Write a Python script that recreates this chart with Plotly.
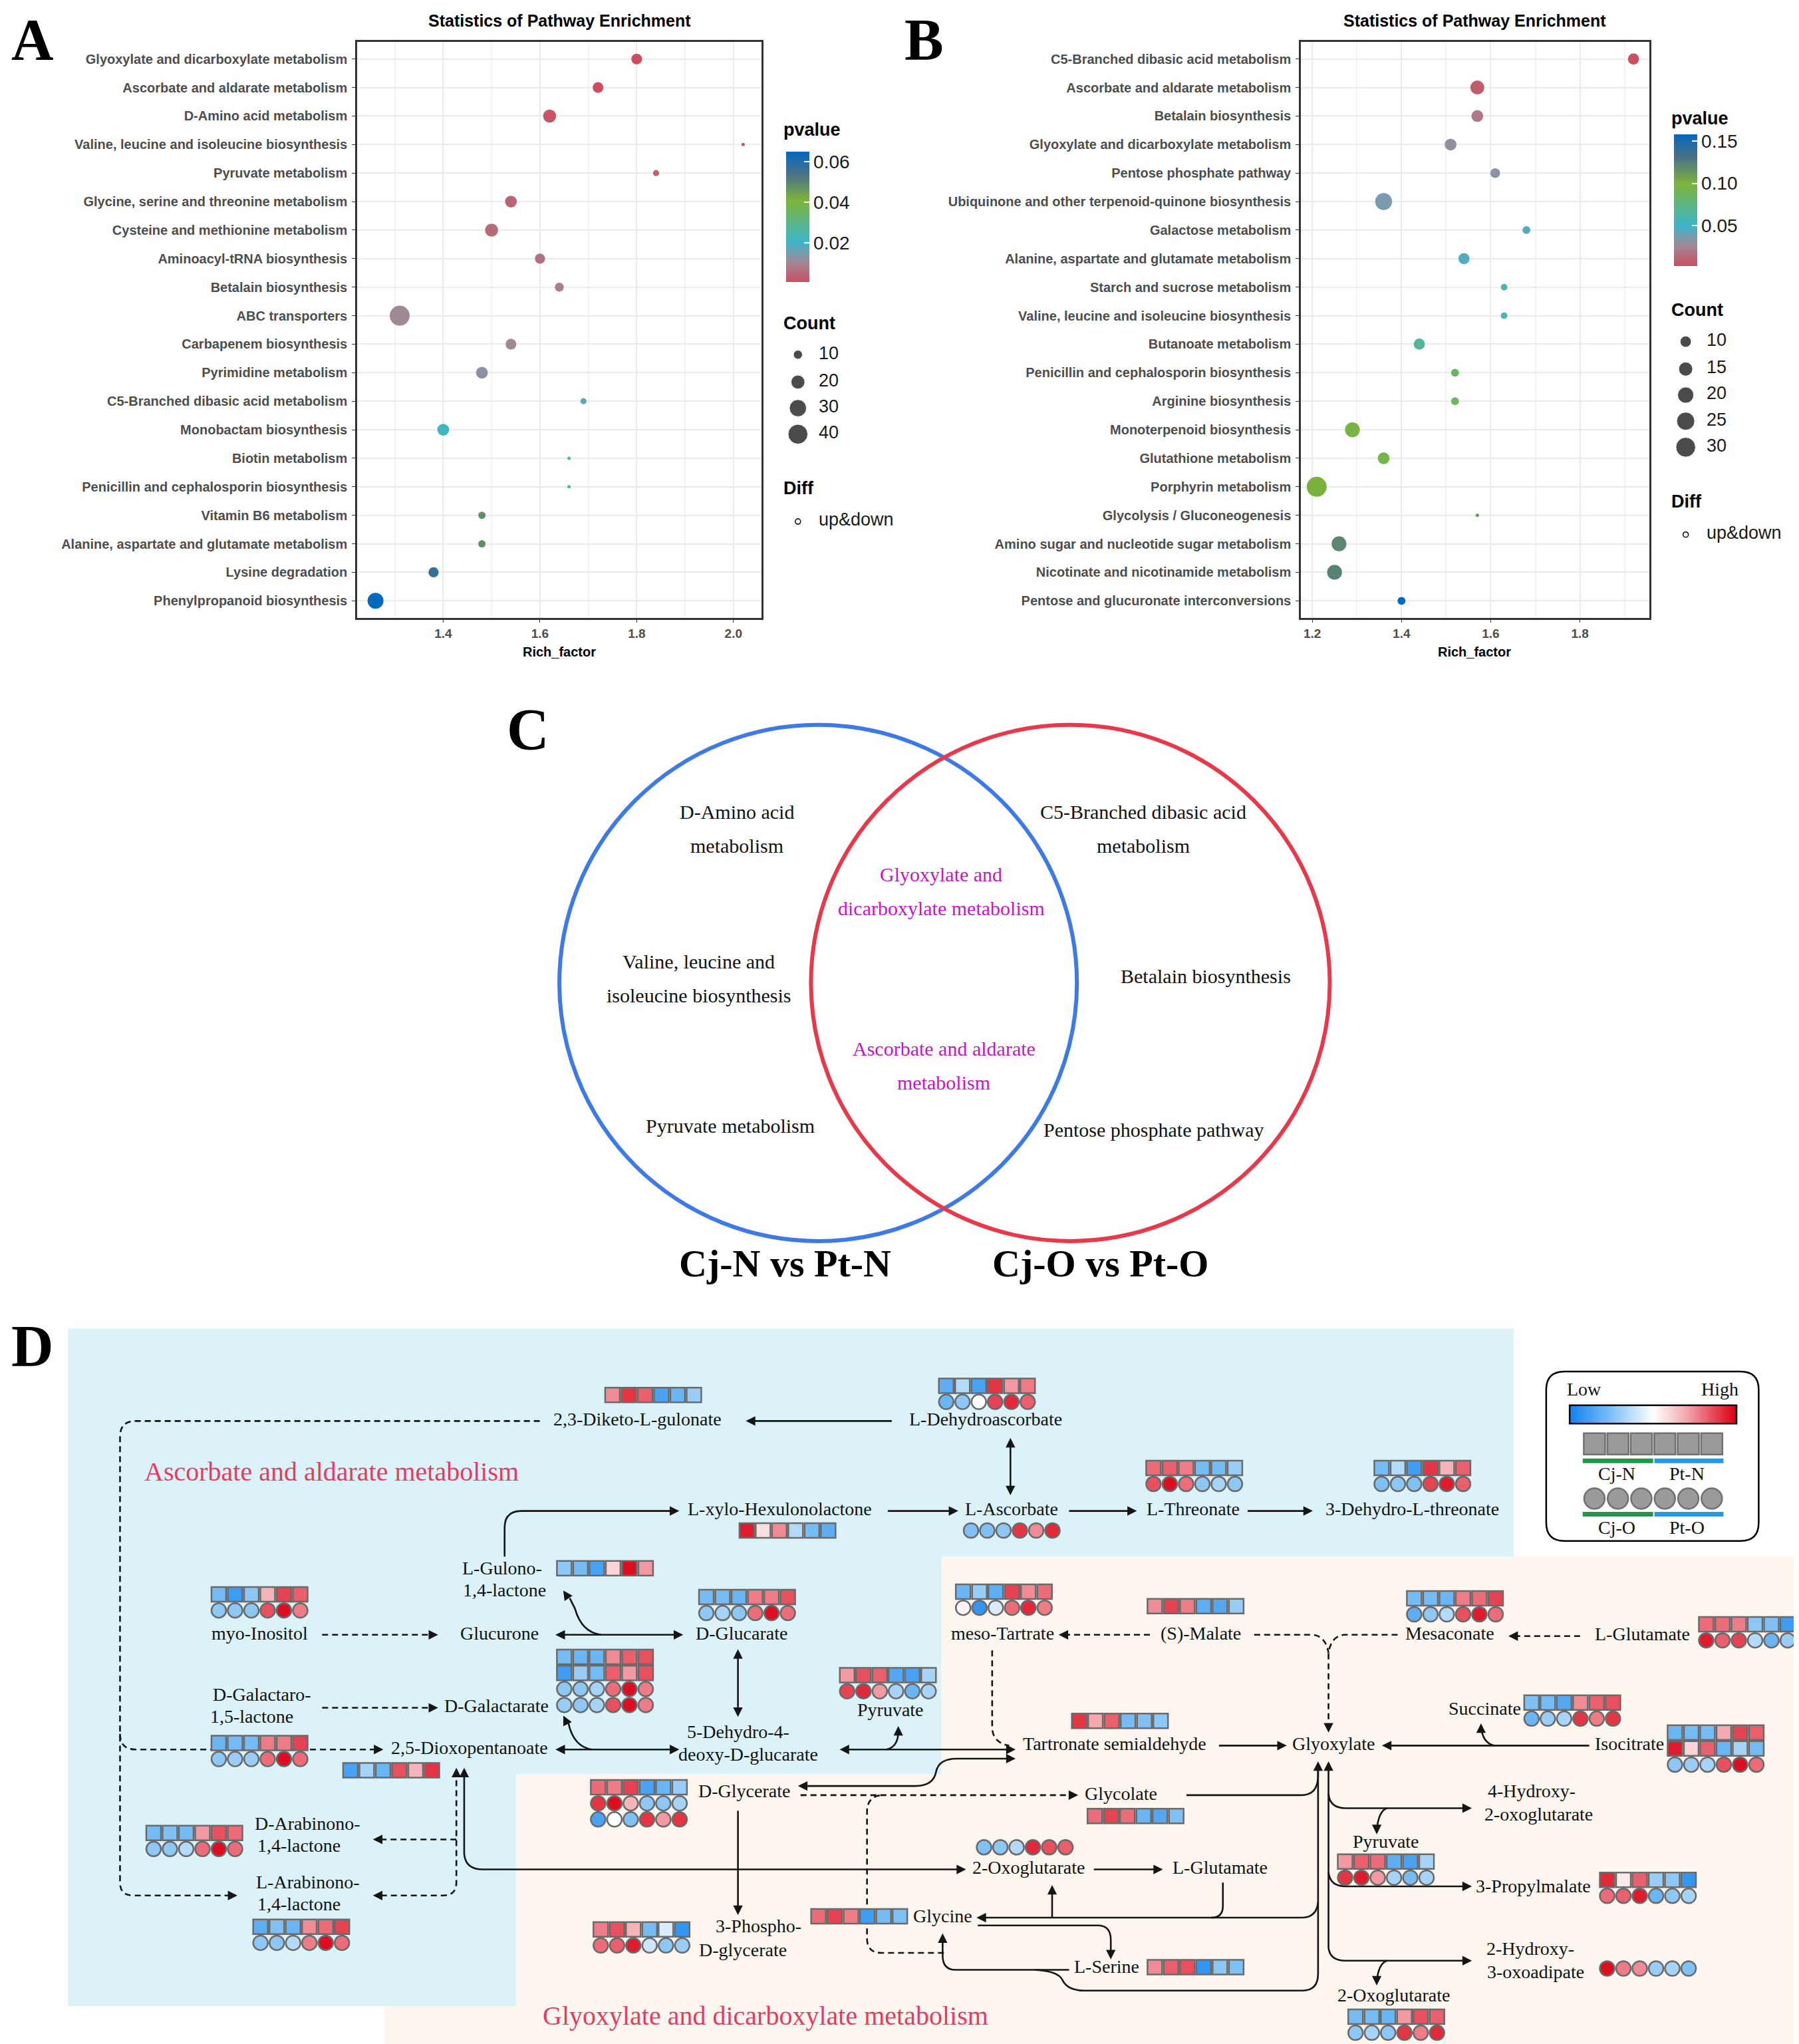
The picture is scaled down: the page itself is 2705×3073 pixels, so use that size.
import numpy as np
import plotly.graph_objects as go

W, H = 2705, 3073
SANS = "Liberation Sans, Arial, sans-serif"
SERIF = "Liberation Serif, Times New Roman, serif"

# ---------------- A: pathway enrichment, Cj-N vs Pt-N
a_pathway = ["Glyoxylate and dicarboxylate metabolism", "Ascorbate and aldarate metabolism",
             "D-Amino acid metabolism", "Valine, leucine and isoleucine biosynthesis",
             "Pyruvate metabolism", "Glycine, serine and threonine metabolism",
             "Cysteine and methionine metabolism", "Aminoacyl-tRNA biosynthesis",
             "Betalain biosynthesis", "ABC transporters", "Carbapenem biosynthesis",
             "Pyrimidine metabolism", "C5-Branched dibasic acid metabolism",
             "Monobactam biosynthesis", "Biotin metabolism",
             "Penicillin and cephalosporin biosynthesis", "Vitamin B6 metabolism",
             "Alanine, aspartate and glutamate metabolism", "Lysine degradation",
             "Phenylpropanoid biosynthesis"]
a_rich = [1.80, 1.72, 1.62, 2.02, 1.84, 1.54, 1.50, 1.60, 1.64, 1.31,
          1.54, 1.48, 1.69, 1.40, 1.66, 1.66, 1.48, 1.48, 1.38, 1.26]
a_pvalue = [0.001, 0.001, 0.002, 0.002, 0.004, 0.005, 0.006, 0.007, 0.009, 0.011,
            0.011, 0.013, 0.018, 0.022, 0.027, 0.027, 0.048, 0.048, 0.057, 0.065]
a_count = [13, 13, 18, 6, 7, 15, 18, 12, 10, 41, 13, 15, 7, 15, 6, 6, 8, 8, 12, 26]
a_count_breaks = [10, 20, 30, 40]
a_p_ticks = [0.02, 0.04, 0.06]

# ---------------- B: pathway enrichment, Cj-O vs Pt-O
b_pathway = ["C5-Branched dibasic acid metabolism", "Ascorbate and aldarate metabolism",
             "Betalain biosynthesis", "Glyoxylate and dicarboxylate metabolism",
             "Pentose phosphate pathway", "Ubiquinone and other terpenoid-quinone biosynthesis",
             "Galactose metabolism", "Alanine, aspartate and glutamate metabolism",
             "Starch and sucrose metabolism", "Valine, leucine and isoleucine biosynthesis",
             "Butanoate metabolism", "Penicillin and cephalosporin biosynthesis",
             "Arginine biosynthesis", "Monoterpenoid biosynthesis", "Glutathione metabolism",
             "Porphyrin metabolism", "Glycolysis / Gluconeogenesis",
             "Amino sugar and nucleotide sugar metabolism",
             "Nicotinate and nicotinamide metabolism", "Pentose and glucuronate interconversions"]
b_rich = [1.92, 1.57, 1.57, 1.51, 1.61, 1.36, 1.68, 1.54, 1.63, 1.63,
          1.44, 1.52, 1.52, 1.29, 1.36, 1.21, 1.57, 1.26, 1.25, 1.40]
b_pvalue = [0.002, 0.008, 0.020, 0.030, 0.032, 0.036, 0.044, 0.045, 0.060, 0.060,
            0.068, 0.085, 0.085, 0.095, 0.093, 0.100, 0.113, 0.120, 0.123, 0.158]
b_count = [10, 15, 11, 11, 8, 22, 6, 10, 5, 5, 10, 6, 6, 17, 11, 31, 4, 17, 17, 6]
b_count_breaks = [10, 15, 20, 25, 30]
b_p_ticks = [0.05, 0.10, 0.15]

# ---------------- C: Venn of the top pathways
venn_sets = ["Cj-N vs Pt-N", "Cj-O vs Pt-O"]
venn_only_n = [["D-Amino acid", "metabolism"], ["Valine, leucine and", "isoleucine biosynthesis"],
               ["Pyruvate metabolism"]]
venn_shared = [["Glyoxylate and", "dicarboxylate metabolism"], ["Ascorbate and aldarate", "metabolism"]]
venn_only_o = [["C5-Branched dibasic acid", "metabolism"], ["Betalain biosynthesis"],
               ["Pentose phosphate pathway"]]

# ---------------- D: relative metabolite levels (-1 low .. 1 high), Cj x3 then Pt x3
h_diketo = [[0.5, 0.8, 0.65, -0.75, -0.6, -0.4]]
h_dehydroasc = [[-0.65, -0.3, -0.75, 0.8, 0.45, 0.55], [-0.6, -0.45, 0.0, 0.75, 0.85, 0.65]]
h_xylo = [[0.9, 0.15, 0.5, -0.3, -0.55, -0.65]]
h_ascorbate = [[-0.5, -0.5, -0.45, 0.8, 0.5, 0.85]]
h_threonate = [[0.6, 0.65, 0.55, -0.55, -0.55, -0.4], [0.7, 0.95, 0.6, -0.45, -0.35, -0.45]]
h_dehydrothr = [[-0.55, -0.3, -0.8, 0.8, 0.35, 0.65], [-0.5, -0.45, -0.5, 0.75, 0.9, 0.65]]
h_gulono = [[-0.45, -0.55, -0.75, 0.2, 0.95, 0.45]]
h_inositol = [[-0.55, -0.8, -0.45, 0.35, 0.75, 0.65], [-0.45, -0.45, -0.45, 0.7, 0.95, 0.55]]
h_glucarate = [[-0.55, -0.55, -0.6, 0.55, 0.55, 0.7], [-0.45, -0.35, -0.45, 0.6, 0.95, 0.6]]
h_galactarolac = [[-0.6, -0.55, -0.55, 0.55, 0.55, 0.75], [-0.45, -0.4, -0.4, 0.6, 0.95, 0.6]]
h_galactarate = [[-0.55, -0.6, -0.6, 0.5, 0.65, 0.7], [-0.8, -0.4, -0.55, 0.65, 0.45, 0.7],
                 [-0.45, -0.45, -0.35, 0.6, 0.95, 0.55], [-0.4, -0.45, -0.35, 0.7, 0.95, 0.55]]
h_dioxopent = [[-0.75, -0.35, -0.6, 0.7, 0.35, 0.8]]
h_pyruvate1 = [[0.45, 0.7, 0.65, -0.7, -0.75, -0.35], [0.75, 0.85, 0.45, -0.35, -0.6, -0.35]]
h_darabinono = [[-0.55, -0.5, -0.55, 0.45, 0.7, 0.6], [-0.45, -0.45, -0.3, 0.6, 0.95, 0.6]]
h_larabinono = [[-0.65, -0.5, -0.6, 0.5, 0.6, 0.75], [-0.45, -0.45, -0.3, 0.55, 0.95, 0.6]]
h_mesotart = [[-0.6, -0.4, -0.65, 0.75, 0.5, 0.6], [0.05, -0.85, -0.15, 0.6, 0.85, 0.55]]
h_malate = [[0.5, 0.75, 0.55, -0.65, -0.7, -0.4]]
h_mesaconate = [[-0.55, -0.55, -0.6, 0.55, 0.6, 0.75], [-0.65, -0.45, -0.3, 0.7, 0.9, 0.6]]
h_glutamate = [[0.6, 0.6, 0.55, -0.45, -0.5, -0.8], [0.9, 0.65, 0.75, -0.3, -0.6, -0.4]]
h_succinate = [[-0.5, -0.55, -0.7, 0.5, 0.65, 0.7], [-0.6, -0.4, -0.35, 0.8, 0.55, 0.8]]
h_isocitrate = [[-0.6, -0.55, -0.55, 0.4, 0.75, 0.65], [0.9, 0.2, 0.65, -0.6, -0.35, -0.55],
                [-0.45, -0.4, -0.35, 0.7, 0.95, 0.6]]
h_tartronate = [[0.8, 0.4, 0.65, -0.55, -0.5, -0.45]]
h_glycerate = [[0.6, 0.55, 0.75, -0.75, -0.6, -0.4], [0.8, 0.95, 0.35, -0.45, -0.45, -0.35],
               [-0.75, 0.0, -0.5, 0.8, 0.45, 0.8]]
h_phosphoglyc = [[0.55, 0.7, 0.35, -0.55, -0.15, -0.85], [0.6, 0.65, 0.9, -0.2, -0.45, -0.4]]
h_glycolate = [[0.6, 0.75, 0.6, -0.6, -0.7, -0.5]]
h_oxoglut1 = [[-0.5, -0.45, -0.3, 0.85, 0.7, 0.65]]
h_glycine = [[0.6, 0.75, 0.55, -0.8, -0.55, -0.5]]
h_serine = [[0.5, 0.65, 0.7, -0.85, -0.45, -0.5]]
h_pyruvate2 = [[0.45, 0.65, 0.6, -0.65, -0.75, -0.35], [0.8, 0.9, 0.45, -0.35, -0.55, -0.35]]
h_propylmal = [[0.85, 0.1, 0.65, -0.4, -0.45, -0.85], [0.6, 0.65, 0.9, -0.6, -0.45, -0.35]]
h_hydroxyoxo = [[0.95, 0.55, 0.5, -0.4, -0.35, -0.5]]
h_oxoglut2 = [[-0.55, -0.55, -0.6, 0.45, 0.7, 0.65], [-0.45, -0.35, -0.45, 0.8, 0.55, 0.85]]

# ================= drawing =================
PCOLS = [[0, '#CC4E60'], [0.16, '#9E8A98'], [0.31, '#3DB6CC'], [0.62, '#7DB53A'],
         [0.82, '#4B7286'], [1, '#0568BF']]
HCOLS = [[0, '#1283EE'], [0.25, '#80C1F5'], [0.5, '#FFFFFF'], [0.7, '#F4A8B0'],
         [0.85, '#E8505E'], [1, '#DC0014']]
PX_MM = 5.0


def dot_size(counts, lo, hi):
    c = np.asarray(counts, float)
    return PX_MM * (1 + 5 * np.sqrt(np.clip((c - lo) / (hi - lo), 0, 1)))


fig = go.Figure()
shapes, annos = [], []
OV = dict(xaxis='x3', yaxis='y3')


def txt(s, x, y, size, color='#111', font=SERIF, anchor='center', bold=False, yanchor='middle'):
    # annotation boxes include the descender, so nudge the glyphs up a touch
    dy = -0.05 * size if yanchor == 'middle' else 0
    annos.append(dict(x=x, y=y + dy, xref='x3', yref='y3',
                      text=f'<b>{s}</b>' if bold else s,
                      showarrow=False, xanchor=anchor, yanchor=yanchor,
                      font=dict(family=font, size=size, color=color)))


def enrichment(xa, ya, rich, path, pval, count, breaks, pticks, cb_x, cb_top, cb_bot, leg_x, leg_y):
    lo, hi = min(count), max(count)
    fig.add_trace(go.Scatter(
        x=rich, y=path, mode='markers', xaxis=xa, yaxis=ya, showlegend=False, hoverinfo='skip',
        marker=dict(size=dot_size(count, lo, hi), color=pval, colorscale=PCOLS,
                    cmin=min(pval), cmax=max(pval), line=dict(width=0), opacity=1,
                    colorbar=dict(x=cb_x * 1.96 / W, xanchor='left', xpad=0, ypad=0,
                                  y=1 - (cb_top + cb_bot) / 2 * 1.96 / H, yanchor='middle',
                                  len=(cb_bot - cb_top) * 1.96, lenmode='pixels',
                                  thickness=35, outlinewidth=0, tickvals=pticks,
                                  ticktext=[f'{t:.2f}' for t in pticks], ticks='inside',
                                  tickcolor='white', ticklen=8, tickwidth=1.5,
                                  tickfont=dict(family=SANS, size=28, color='#1a1a1a')),
                    showscale=True)))
    # count legend, drawn with the same size mapping
    ys = leg_y['items']
    fig.add_trace(go.Scatter(x=[leg_x + 9] * len(breaks), y=ys, mode='markers', **OV,
                             showlegend=False, hoverinfo='skip',
                             marker=dict(size=dot_size(breaks, lo, hi), color='black')))
    for b, yy in zip(breaks, ys):
        txt(str(b), leg_x + 24, yy, 27, '#1a1a1a', SANS, 'left')
    txt('pvalue', leg_x - 3, leg_y['p'], 27, 'black', SANS, 'left', True)
    txt('Count', leg_x - 3, leg_y['count'], 27, 'black', SANS, 'left', True)
    txt('Diff', leg_x - 3, leg_y['diff'], 27, 'black', SANS, 'left', True)
    fig.add_trace(go.Scatter(x=[leg_x + 9], y=[leg_y['up']], mode='markers', **OV,
                             showlegend=False, hoverinfo='skip',
                             marker=dict(size=8, color='white', line=dict(color='black', width=1.5))))
    txt('up&amp;down', leg_x + 24, leg_y['up'], 27, '#1a1a1a', SANS, 'left')


enrichment('x', 'y', a_rich, a_pathway, a_pvalue, a_count, a_count_breaks, a_p_ticks,
           599, 112, 212, 599,
           dict(p=97, count=245, items=[268, 289, 309, 329], diff=372, up=396))
enrichment('x2', 'y2', b_rich, b_pathway, b_pvalue, b_count, b_count_breaks, b_p_ticks,
           1280, 99, 200, 1280,
           dict(p=88, count=235, items=[258, 279, 299, 319, 339], diff=382, up=406))

for cx in (425, 1127):
    txt('Statistics of Pathway Enrichment', cx, 13, 25, 'black', SANS, 'center', True)
    txt('Rich_factor', cx, 497, 20, 'black', SANS, 'center', True)

# panel letters
for s, x, y in [('A', 21, 0.5), ('B', 705, 0.5)]:
    txt(s, x, y, 88, 'black', SERIF, 'center', True, yanchor='top')
for s, x, y in [('C', 401, 560), ('D', 21, 1033)]:
    txt(s, x, y, 88, 'black', SERIF, 'center', True)

# ---------------- C
shapes.append(dict(type='circle', xref='x3', yref='y3', x0=425, x1=822, y0=552, y1=948,
                   line=dict(color='#3D7AE6', width=6)))
shapes.append(dict(type='circle', xref='x3', yref='y3', x0=618, x1=1016, y0=552, y1=948,
                   line=dict(color='#E8394B', width=6)))
venn_pos_n = [(561, 620), (532, 735), (556, 861)]
venn_pos_s = [(718, 668), (720, 802)]
venn_pos_o = [(873, 620), (921, 746), (881, 864)]
for group, pos, col in ((venn_only_n, venn_pos_n, '#111'), (venn_shared, venn_pos_s, '#CC11CC'),
                        (venn_only_o, venn_pos_o, '#111')):
    for lines, (x, y) in zip(group, pos):
        for j, ln in enumerate(lines):
            txt(ln, x, y + 26 * j, 30, col)
for s, x in zip(venn_sets, [598, 840]):
    txt(s, x, 968, 58, 'black', SERIF, 'center', True)

# ---------------- D backgrounds
shapes.append(dict(type='path', xref='x3', yref='y3', layer='below', line=dict(width=0),
                   fillcolor='#FDF6EF',
                   path='M718,1190 L1380,1190 L1380,1568 L291,1568 L291,1357 L718,1357 Z'))
shapes.append(dict(type='path', xref='x3', yref='y3', layer='below', line=dict(width=0),
                   fillcolor='#DBF3F8',
                   path='M48,1015 L1157,1015 L1157,1190 L718,1190 L718,1357 L392,1357 '
                        'L392,1535 L48,1535 Z'))

# connectors (path, dashed)
edges = [
    ("M680,1086 L570,1086", 0), ("M771,1101 L771,1141", 0),
    ("M383,1190 L383,1168 Q383,1155 396,1155 L515,1155", 0),
    ("M677,1155 L729,1155", 0), ("M816,1155 L866,1155", 0), ("M953,1155 L1001,1155", 0),
    ("M410,1086 L100,1086 Q88,1086 88,1098 L88,1440 Q88,1450 98,1450 L176,1450", 1),
    ("M88,1326 Q88,1338 100,1338 L288,1338", 1),
    ("M243,1250 L330,1250", 1), ("M424,1250 L518,1250", 0),
    ("M457,1250 Q442,1248 437,1230 L433,1222", 0), ("M562,1263 L562,1311", 0),
    ("M243,1306 L330,1306", 1), ("M424,1338 L515,1338", 0),
    ("M450,1338 Q436,1336 432,1318", 0), ("M642,1338 L773,1338", 0),
    ("M676,1338 Q685,1336 685,1324", 0),
    ("M610,1366 L698,1366 Q712,1366 714,1355 Q716,1345 730,1345 L773,1345", 0),
    ("M757,1262 L757,1322 Q758,1333 770,1335", 1),
    ("M878,1250 L810,1250", 1),
    ("M958,1250 L1003,1250 Q1013,1251 1015,1264", 1),
    ("M1068,1250 L1027,1250 Q1017,1251 1015,1264 L1015,1323", 1),
    ("M1208,1251 L1155,1251", 1),
    ("M1215,1335 L1058,1335", 0), ("M1142,1335 Q1133,1333 1132,1320", 0),
    ("M931,1335 L981,1335", 0), ("M562,1385 L562,1463", 0),
    ("M610,1373 L821,1373", 1),
    ("M720,1494 L672,1494 Q661,1494 661,1483 L661,1386 Q661,1374 672,1373", 1),
    ("M906,1373 L994,1373 Q1007,1373 1007,1358 L1007,1349", 0),
    ("M352,1354 L352,1418 Q353,1430 366,1430 L735,1430", 0),
    ("M346,1354 L346,1440 Q346,1450 336,1450 L284,1450", 1), ("M346,1407 L284,1407", 1),
    ("M835,1430 L886,1430", 0),
    ("M1007,1349 L1007,1455 Q1006,1467 994,1467 L747,1467", 0),
    ("M803,1467 L803,1444", 0), ("M934,1440 L934,1458 Q934,1467 925,1467", 0),
    ("M746,1473 L838,1473 Q848,1473 848,1484 L848,1497", 0),
    ("M816,1507 L729,1507 Q719,1507 719,1496 L719,1481", 0),
    ("M790,1507 Q808,1508 811,1515 Q815,1523 828,1523 L995,1523 Q1007,1523 1007,1510 L1007,1455", 0),
    ("M1015,1349 L1015,1372 Q1016,1383 1028,1383 L1123,1383", 0),
    ("M1060,1383 Q1053,1385 1052,1401", 0),
    ("M1015,1372 L1015,1432 Q1016,1443 1028,1443 L1123,1443", 0),
    ("M1015,1432 L1015,1490 Q1016,1500 1028,1500 L1123,1500", 0),
    ("M1060,1500 Q1053,1502 1052,1517", 0),
]
for d, dashed in edges:
    shapes.append(dict(type='path', path=d, xref='x3', yref='y3', layer='below',
                       line=dict(color='#151515', width=2.6, dash='9px,6px' if dashed else 'solid')))

heads = [
    (568, 1086, 574, 1086), (771, 1099, 771, 1105), (771, 1143, 771, 1137),
    (517, 1155, 511, 1155), (731, 1155, 725, 1155), (868, 1155, 862, 1155),
    (1003, 1155, 997, 1155), (178, 1450, 172, 1450), (290, 1338, 284, 1338),
    (332, 1250, 326, 1250), (422, 1250, 428, 1250), (520, 1250, 514, 1250),
    (428, 1216, 432, 1222), (562, 1261, 562, 1267), (562, 1313, 562, 1307),
    (332, 1306, 326, 1306), (422, 1338, 428, 1338), (517, 1338, 511, 1338),
    (428, 1312, 431, 1318), (640, 1338, 646, 1338), (775, 1338, 769, 1338),
    (685, 1320, 685, 1326), (608, 1366, 614, 1366), (775, 1345, 769, 1345),
    (808, 1250, 814, 1250), (1015, 1325, 1015, 1319), (1153, 1251, 1159, 1251),
    (1056, 1335, 1062, 1335), (1132, 1318, 1132, 1324), (983, 1335, 977, 1335),
    (562, 1465, 562, 1459), (823, 1373, 817, 1373), (1007, 1347, 1007, 1353),
    (1015, 1347, 1015, 1353), (352, 1352, 352, 1358), (346, 1352, 346, 1358),
    (737, 1430, 731, 1430), (282, 1450, 288, 1450), (282, 1407, 288, 1407),
    (888, 1430, 882, 1430), (745, 1467, 751, 1467), (803, 1442, 803, 1448),
    (848, 1499, 848, 1493), (719, 1479, 719, 1485), (1125, 1383, 1119, 1383),
    (1052, 1403, 1052, 1397), (1125, 1443, 1119, 1443), (1125, 1500, 1119, 1500),
    (1052, 1519, 1052, 1513),
]
for x, y, fx, fy in heads:
    annos.append(dict(x=x, y=y, ax=fx, ay=fy, xref='x3', yref='y3', axref='x3', ayref='y3',
                      text='', showarrow=True, arrowhead=2, arrowsize=1.1, arrowwidth=2.6,
                      arrowcolor='#151515', standoff=0))

# metabolite labels
labels = [
    ("2,3-Diketo-L-gulonate", 485, 1086), ("L-Dehydroascorbate", 752, 1086),
    ("L-xylo-Hexulonolactone", 594, 1155), ("L-Ascorbate", 772, 1155),
    ("L-Threonate", 911, 1155), ("3-Dehydro-L-threonate", 1079, 1155),
    ("L-Gulono-", 381, 1200), ("1,4-lactone", 383, 1217), ("myo-Inositol", 195, 1250),
    ("Glucurone", 379, 1250), ("D-Glucarate", 565, 1250), ("D-Galactaro-", 197, 1297),
    ("1,5-lactone", 189, 1314), ("D-Galactarate", 377, 1306),
    ("2,5-Dioxopentanoate", 356, 1338), ("5-Dehydro-4-", 562, 1326),
    ("deoxy-D-glucarate", 570, 1343), ("Pyruvate", 679, 1309),
    ("D-Arabinono-", 232, 1396), ("1,4-lactone", 225, 1413),
    ("L-Arabinono-", 232, 1441), ("1,4-lactone", 225, 1458),
    ("meso-Tartrate", 765, 1250), ("(S)-Malate", 917, 1250), ("Mesaconate", 1108, 1250),
    ("L-Glutamate", 1256, 1251), ("Succinate", 1135, 1308),
    ("Tartronate semialdehyde", 851, 1335), ("Glyoxylate", 1019, 1335),
    ("Isocitrate", 1246, 1335), ("D-Glycerate", 567, 1371), ("Glycolate", 856, 1373),
    ("4-Hydroxy-", 1171, 1371), ("2-oxoglutarate", 1176, 1389), ("Pyruvate", 1059, 1410),
    ("2-Oxoglutarate", 785, 1430), ("L-Glutamate", 932, 1430),
    ("3-Propylmalate", 1172, 1444), ("Glycine", 719, 1467), ("3-Phospho-", 578, 1475),
    ("D-glycerate", 566, 1493), ("2-Hydroxy-", 1170, 1492), ("3-oxoadipate", 1174, 1510),
    ("L-Serine", 845, 1506), ("2-Oxoglutarate", 1065, 1528),
]
for s, x, y in labels:
    txt(s, x, y, 28)
txt('Ascorbate and aldarate metabolism', 250, 1127, 40, '#E63B5F')
txt('Glyoxylate and dicarboxylate metabolism', 583, 1544, 40, '#E63B5F')

# heat cells: (values, centre x, first row y, row kinds  s=square c=circle)
blocks = [
    (h_diketo, 497, 1066, 's'), (h_dehydroasc, 753, 1059, 'sc'), (h_xylo, 600, 1170, 's'),
    (h_ascorbate, 772, 1170, 'c'), (h_threonate, 912, 1122, 'sc'),
    (h_dehydrothr, 1087, 1122, 'sc'), (h_gulono, 460, 1199, 's'),
    (h_inositol, 195, 1219, 'sc'), (h_glucarate, 569, 1221, 'sc'),
    (h_galactarolac, 195, 1333, 'sc'), (h_galactarate, 460, 1267, 'sscc'),
    (h_dioxopent, 296, 1354, 's'), (h_pyruvate1, 677, 1281, 'sc'),
    (h_darabinono, 145, 1402, 'sc'), (h_larabinono, 227, 1474, 'sc'),
    (h_mesotart, 766, 1217, 'sc'), (h_malate, 913, 1228, 's'),
    (h_mesaconate, 1112, 1222, 'sc'), (h_glutamate, 1336, 1242, 'sc'),
    (h_succinate, 1202, 1302, 'sc'), (h_isocitrate, 1312, 1325, 'ssc'),
    (h_tartronate, 855, 1316, 's'), (h_glycerate, 486, 1367, 'scc'),
    (h_phosphoglyc, 488, 1476, 'sc'), (h_glycolate, 867, 1389, 's'),
    (h_oxoglut1, 782, 1413, 'c'), (h_glycine, 655, 1466, 's'), (h_serine, 913, 1505, 's'),
    (h_pyruvate2, 1059, 1424, 'sc'), (h_propylmal, 1260, 1438, 'sc'),
    (h_hydroxyoxo, 1260, 1506, 'c'), (h_oxoglut2, 1067, 1543, 'sc'),
]
CELL, ROW = 12.5, 12.3
cells = {'s': ([], [], []), 'c': ([], [], [])}
for vals, cx, cy, kinds in blocks:
    for r, (row, k) in enumerate(zip(vals, kinds)):
        for i, v in enumerate(row):
            cells[k][0].append(cx + (i - 2.5) * CELL)
            cells[k][1].append(cy + r * ROW)
            cells[k][2].append(v)
for k, sym in (('s', 'square'), ('c', 'circle')):
    xs, ys, vs = cells[k]
    fig.add_trace(go.Scatter(x=xs, y=ys, mode='markers', **OV, showlegend=False,
                             hoverinfo='skip',
                             marker=dict(symbol=sym, size=22, color=vs, colorscale=HCOLS,
                                         cmin=-1, cmax=1, showscale=False,
                                         line=dict(color='#6A6A6A', width=2.5))))

# D legend box
shapes.append(dict(type='path', xref='x3', yref='y3', layer='below', fillcolor='white',
                   line=dict(color='black', width=2.5),
                   path='M1196,1048 L1331,1048 Q1345,1048 1345,1062 L1345,1164 Q1345,1178 1331,1178 '
                        'L1196,1178 Q1182,1178 1182,1164 L1182,1062 Q1182,1048 1196,1048 Z'))
grad = np.linspace(-1, 1, 120)
fig.add_trace(go.Heatmap(z=[grad], x=np.linspace(1200, 1328, 121), y=[1074, 1088], **OV,
                         colorscale=HCOLS, zmin=-1, zmax=1, showscale=False, hoverinfo='skip'))
shapes.append(dict(type='rect', xref='x3', yref='y3', x0=1200, x1=1328, y0=1074, y1=1088,
                   line=dict(color='black', width=2.5)))
lx = [1219 + 18 * i for i in range(6)]
for yy, sym, sz in ((1103.5, 'square', 32), (1145.5, 'circle', 31)):
    fig.add_trace(go.Scatter(x=lx, y=[yy] * 6, mode='markers', **OV, showlegend=False,
                             hoverinfo='skip',
                             marker=dict(symbol=sym, size=sz, color='#9A9A9A',
                                         line=dict(color='#707070', width=2.5))))
for yy in (1116.5, 1157.5):
    shapes.append(dict(type='line', xref='x3', yref='y3', x0=1210, x1=1264, y0=yy, y1=yy,
                       line=dict(color='#1E9A46', width=7)))
    shapes.append(dict(type='line', xref='x3', yref='y3', x0=1265, x1=1318, y0=yy, y1=yy,
                       line=dict(color='#1E9BE8', width=7)))
for s, x, y in [('Low', 1211, 1063), ('High', 1315, 1063), ('Cj-N', 1236, 1128),
                ('Pt-N', 1290, 1128), ('Cj-O', 1236, 1169), ('Pt-O', 1290, 1169)]:
    txt(s, x, y, 28)

# ---------------- axes
grid = '#EBEBEB'
TICKF = dict(family=SANS, size=20, color='#4D4D4D', weight='bold')


def enrich_axes(xdom, rng, order):
    xa = dict(domain=xdom, range=rng, dtick=0.2, tick0=0, tickformat='.1f', showgrid=True,
              gridcolor=grid, gridwidth=2, zeroline=False, showline=True, mirror=True,
              linecolor='#333', linewidth=2.5, ticks='outside', ticklen=4, tickcolor='#333',
              tickfont=dict(TICKF, size=19),
              minor=dict(dtick=0.1, tick0=0, showgrid=True, gridcolor='#F2F2F2', gridwidth=1.5))
    ya = dict(domain=[1 - 921 / H, 1 - 55 / H], type='category', categoryorder='array',
              categoryarray=order, range=[len(order) - 0.4, -0.6],
              showgrid=True, gridcolor=grid, gridwidth=2, zeroline=False, showline=True,
              mirror=True, linecolor='#333', linewidth=2.5, ticks='outside', ticklen=5,
              tickcolor='#333', tickfont=TICKF, ticklabelstandoff=3)
    return xa, ya


xa1, ya1 = enrich_axes([529 / W, 1137 / W], [1.222, 2.058], a_pathway)
xa2, ya2 = enrich_axes([1948 / W, 2472 / W], [1.1745, 1.9555], b_pathway)

fig.update_layout(
    width=W, height=H, margin=dict(l=0, r=0, t=0, b=0), autosize=False,
    paper_bgcolor='white', plot_bgcolor='rgba(0,0,0,0)', showlegend=False,
    xaxis=dict(xa1, anchor='y'), yaxis=dict(ya1, anchor='x'),
    xaxis2=dict(xa2, anchor='y2'), yaxis2=dict(ya2, anchor='x2'),
    xaxis3=dict(domain=[0, 1], range=[0, 1380], visible=False, anchor='y3', fixedrange=True),
    yaxis3=dict(domain=[0, 1], range=[1568, 0], visible=False, anchor='x3', fixedrange=True),
    shapes=shapes, annotations=annos,
)

fig.write_html("out.html")
